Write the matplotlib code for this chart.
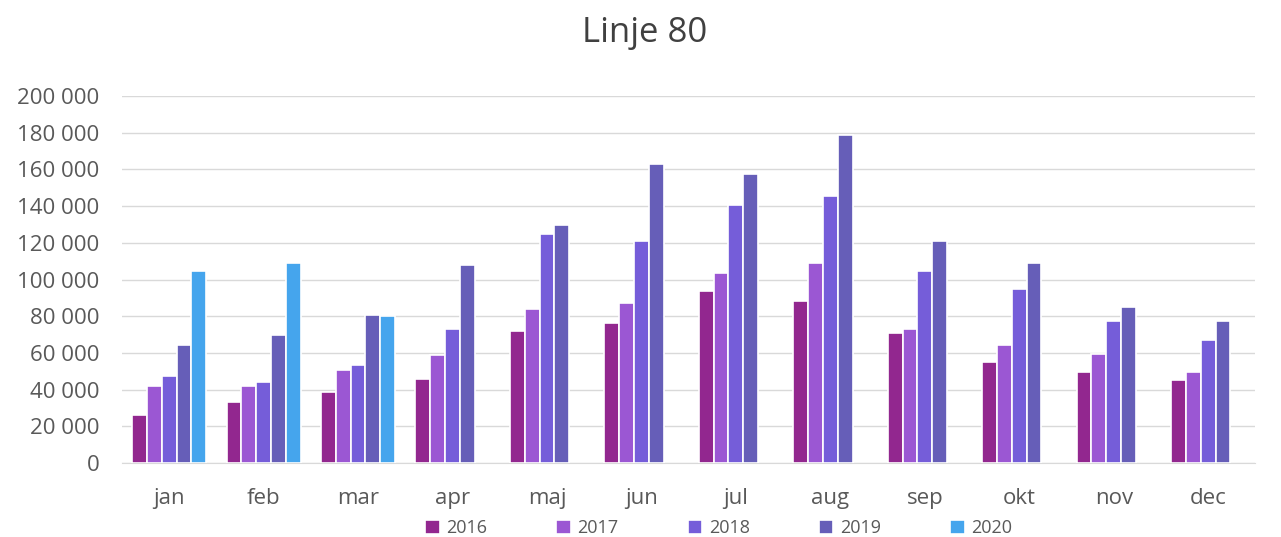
import numpy as np
import matplotlib.pyplot as plt
from matplotlib.ticker import FuncFormatter

months = ['jan', 'feb', 'mar', 'apr', 'maj', 'jun', 'jul', 'aug', 'sep', 'okt', 'nov', 'dec']
years = ['2016', '2017', '2018', '2019', '2020']

v2016 = [26000, 33000, 38500, 46000, 72000, 76500, 94000, 88500, 71000, 55000, 49500, 45000]
v2017 = [42000, 42000, 50500, 59000, 84000, 87000, 103500, 109000, 73000, 64500, 59500, 49500]
v2018 = [47400, 44000, 53500, 73000, 125000, 121000, 140500, 145500, 104500, 95000, 77500, 67000]
v2019 = [64300, 70000, 80500, 108000, 129500, 163000, 157500, 178500, 121000, 109000, 85000, 77500]
v2020 = [104600, 109000, 80000, np.nan, np.nan, np.nan, np.nan, np.nan, np.nan, np.nan, np.nan, np.nan]

series = [v2016, v2017, v2018, v2019, v2020]
colors = ['#92278F', '#9B57D3', '#755DD9', '#665EB8', '#45A5ED']

plt.rcParams['font.family'] = ['Open Sans', 'DejaVu Sans']

fig = plt.figure(figsize=(12.81, 5.37), dpi=100)
ax = fig.add_axes([0.0952, 0.1378, 0.8848, 0.6834])

x = np.arange(len(months))
step = 0.157
for i, (vals, col, yr) in enumerate(zip(series, colors, years)):
    offs = (i - 2) * step
    ax.bar(x + offs, vals, width=step, color=col, edgecolor='white', linewidth=1.2, label=yr, zorder=3)

ax.set_xlim(-0.5, len(months) - 0.5)
ax.set_ylim(0, 200000)
ax.set_yticks(np.arange(0, 200001, 20000))
ax.yaxis.set_major_formatter(FuncFormatter(lambda v, p: f'{int(v):,}'.replace(',', ' ')))
ax.set_xticks(x)
ax.set_xticklabels(months)
ax.grid(axis='y', color='#D9D9D9', linewidth=1, zorder=0)
for s in ['top', 'right', 'left']:
    ax.spines[s].set_visible(False)
ax.spines['bottom'].set_color('#D9D9D9')
ax.tick_params(axis='both', length=0, labelsize=16, colors='#595959')
ax.tick_params(axis='x', pad=18)
ax.tick_params(axis='y', pad=16)

fig.text(0.503, 0.9385, 'Linje 80', fontsize=25, color='#404040', ha='center', va='center')

fig.legend(loc='center', ncol=5, bbox_to_anchor=(0.561, 0.0168), frameon=False,
           fontsize=13, handlelength=0.8, handleheight=0.8, columnspacing=3.85,
           handletextpad=0.35, labelcolor='#595959')

fig.savefig('out.png', dpi=100)
